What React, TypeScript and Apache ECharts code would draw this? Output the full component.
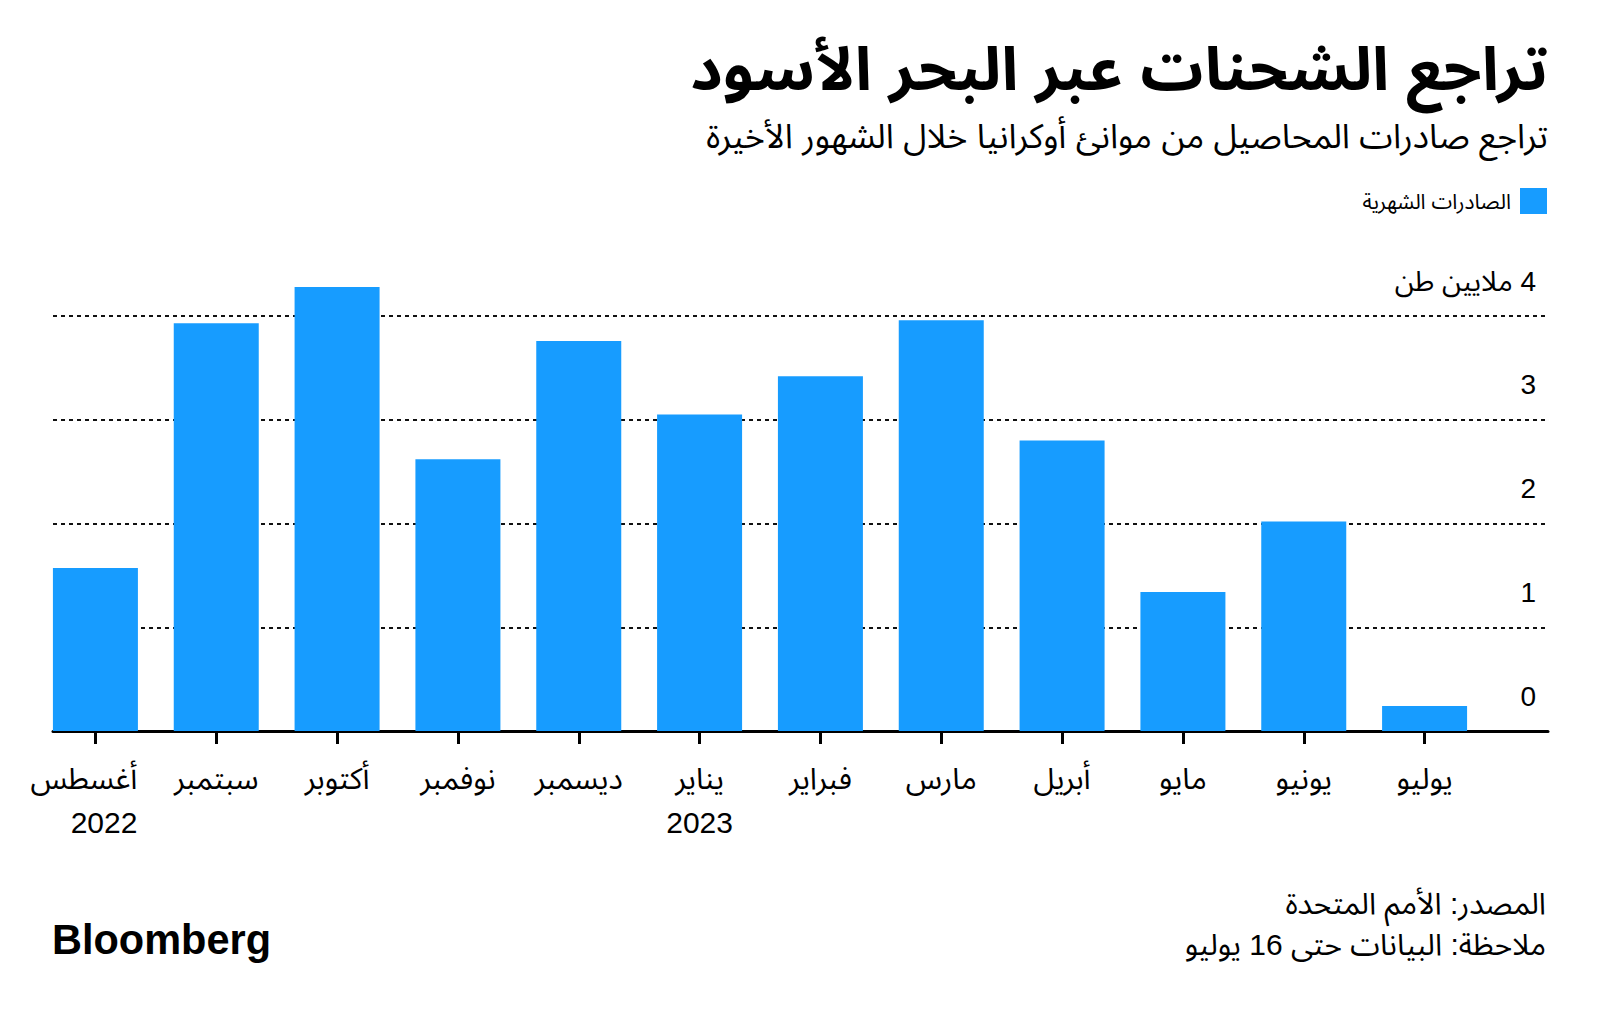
import React, { useEffect, useRef } from "react";
import * as echarts from "echarts";

const months = ["أغسطس", "سبتمبر", "أكتوبر", "نوفمبر", "ديسمبر", "يناير", "فبراير", "مارس", "أبريل", "مايو", "يونيو", "يوليو"];
const years = ["2022", "", "", "", "", "2023", "", "", "", "", "", ""];
const exportsMt = [1.57, 3.93, 4.28, 2.62, 3.76, 3.05, 3.42, 3.96, 2.8, 1.34, 2.02, 0.24];
const yTicks = [0, 1, 2, 3, 4];
const unitLabel = "ملايين طن";
const seriesName = "الصادرات الشهرية";
const title = "تراجع الشحنات عبر البحر الأسود";
const subtitle = "تراجع صادرات المحاصيل من موانئ أوكرانيا خلال الشهور الأخيرة";
const sourceText = "المصدر: الأمم المتحدة";
const noteText = "ملاحظة: البيانات حتى 16 يوليو";

const FONT = '"Liberation Sans", "Noto Sans Arabic", "DejaVu Sans", sans-serif';
const BLUE = "#179cff";

export default function App() {
  const ref = useRef<HTMLDivElement>(null);
  useEffect(() => {
    if (!ref.current) return;
    const chart = echarts.init(ref.current, null, { renderer: "svg" });
    const baseY = 731;
    const top = 316;
    const bottom = 1018 - baseY;
    const unitPx = (baseY - top) / 4;
    const barMax = 5;
    const topB = baseY - unitPx * barMax;
    const categoryData = months.map((m, i) =>
      i === 0 ? { value: m, textStyle: { align: "right", padding: [0, -42, 0, 0] } } : m
    );
    chart.setOption({
      animation: false,
      backgroundColor: "#ffffff",
      textStyle: { fontFamily: FONT },
      grid: [
        { left: 53, right: 52, top, bottom, containLabel: false },
        { left: 35, right: 115, top: topB, bottom, containLabel: false },
      ],
      legend: {
        right: 53,
        top: 188,
        padding: 0,
        align: "right",
        icon: "rect",
        itemWidth: 27,
        itemHeight: 26,
        textStyle: { fontSize: 21, color: "#000", fontFamily: FONT, padding: [0, 4, 0, 0] },
        data: [seriesName],
      },
      xAxis: [
        {
          gridIndex: 0,
          type: "value",
          min: 0,
          max: 1,
          axisLine: { show: true, onZero: false, lineStyle: { color: "#000", width: 3 } },
          axisTick: { show: false },
          axisLabel: { show: false },
          splitLine: { show: false },
        },
        {
          gridIndex: 1,
          type: "category",
          data: categoryData,
          axisLine: { show: false },
          axisTick: { show: true, alignWithLabel: true, length: 13, lineStyle: { color: "#000", width: 3 } },
          axisLabel: {
            margin: 25,
            fontSize: 30,
            color: "#000",
            fontFamily: FONT,
            lineHeight: 44,
            interval: 0,
            formatter: (v: string, i: number) => (years[i] ? v + "\n" + years[i] : v),
          },
        },
      ],
      yAxis: [
        {
          gridIndex: 0,
          type: "value",
          min: yTicks[0],
          max: yTicks[yTicks.length - 1],
          interval: 1,
          position: "right",
          axisLine: { show: false },
          axisTick: { show: false },
          axisLabel: {
            inside: true,
            margin: 12,
            fontSize: 28,
            color: "#000",
            fontFamily: FONT,
            verticalAlign: "bottom",
            padding: [0, 0, 21, 0],
            formatter: (v: number) => (v === 4 ? "\u200F" + v + " " + unitLabel : String(v)),
          },
          splitLine: { show: true, lineStyle: { color: "#111", width: 2, type: [4, 4] } },
        },
        {
          gridIndex: 1,
          type: "value",
          min: 0,
          max: barMax,
          show: false,
          splitLine: { show: false },
        },
      ],
      series: [
        {
          name: seriesName,
          type: "bar",
          xAxisIndex: 1,
          yAxisIndex: 1,
          data: exportsMt,
          barWidth: 85,
          itemStyle: { color: BLUE },
          z: 3,
        },
      ],
      graphic: [
        {
          type: "text",
          x: 1548,
          y: 69,
          scaleX: 1.045,
          style: { text: title, align: "right", verticalAlign: "middle", fontSize: 60, fontWeight: "bold", fontFamily: FONT, fill: "#000" },
        },
        {
          type: "text",
          x: 1548,
          y: 136,
          style: { text: subtitle, align: "right", verticalAlign: "middle", fontSize: 34, fontFamily: FONT, fill: "#000" },
        },
        {
          type: "text",
          x: 1546,
          y: 903,
          style: { text: sourceText, align: "right", verticalAlign: "middle", fontSize: 30, fontFamily: FONT, fill: "#000" },
        },
        {
          type: "text",
          x: 1546,
          y: 944,
          style: { text: noteText, align: "right", verticalAlign: "middle", fontSize: 30, fontFamily: FONT, fill: "#000" },
        },
        {
          type: "text",
          x: 52,
          y: 939,
          scaleX: 0.965,
          style: { text: "Bloomberg", align: "left", verticalAlign: "middle", fontSize: 43, fontWeight: "bold", fontFamily: '"Liberation Sans", Arial, sans-serif', fill: "#000" },
        },
      ],
    });
    return () => chart.dispose();
  }, []);
  return <div ref={ref} style={{ position: "absolute", left: 0, top: 0, width: 1600, height: 1018 }} />;
}
